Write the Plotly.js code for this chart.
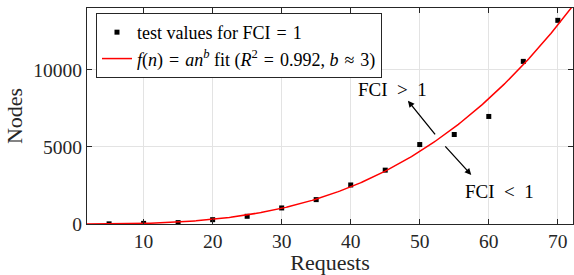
<!DOCTYPE html>
<html>
<head>
<meta charset="utf-8">
<script src="https://cdn.plot.ly/plotly-3.0.1.min.js"></script>
<style>html,body{margin:0;padding:0;background:#fff}#chart{width:574px;height:275px}</style>
</head>
<body>
<div id="chart"></div>
<script>
// Measured test values (FCI = 1)
const requests = [5, 10, 15, 20, 25, 30, 35, 40, 45, 50, 55, 60, 65, 70];
const nodes = [10, 40, 90, 280, 500, 1040, 1580, 2530, 3490, 5150, 5800, 6970, 10540, 13200];
// Fit f(n) = a n^b
const fitA = 0.0376;
const fitB = 3;
const xTicks = [10, 20, 30, 40, 50, 60, 70];
const yTicks = [0, 5000, 10000];
const yTickText = ['0', '5000', '10000'];

const fitX = [];
const fitY = [];
for (let n = 1.8; n <= 72.2001; n += 0.2) {
  fitX.push(n);
  fitY.push(fitA * Math.pow(n, fitB));
}

const FONT = 'Liberation Serif, Times New Roman, serif';
const INK = '#262626';
const SP = '\u2002';   // wide space around relations in annotations
const RS = '\u2004';   // relation spacing in legend

const traces = [
  {
    x: requests, y: nodes, mode: 'markers', type: 'scatter',
    name: 'test values for FCI' + RS + '=' + RS + '1',
    marker: {symbol: 'square', size: 5, color: '#000'}
  },
  {
    x: fitX, y: fitY, mode: 'lines', type: 'scatter',
    name: '<i>f</i>(<i>n</i>)' + RS + '=' + RS + '<i>an</i><sup><i>b</i></sup> fit (<i>R</i><sup>2</sup>' + RS + '=' + RS + '0.992, <i>b</i>' + RS + '≈' + RS + '3)',
    line: {color: '#ff0000', width: 1.5}
  }
];

const axisCommon = {
  showline: true, linecolor: INK, linewidth: 1, mirror: 'ticks',
  ticks: 'inside', ticklen: 5, tickcolor: INK, tickwidth: 1,
  showgrid: true, gridcolor: '#e3e3e3', gridwidth: 1,
  zeroline: false, automargin: true,
  tickfont: {family: FONT, size: 19.5, color: INK}
};

const layout = {
  width: 574, height: 275,
  margin: {l: 87, r: 1, t: 8, b: 51},
  paper_bgcolor: '#fff', plot_bgcolor: '#fff',
  font: {family: FONT, color: INK},
  showlegend: true,
  legend: {
    x: 0.0185, y: 0.977, xanchor: 'left', yanchor: 'top',
    bgcolor: '#fff', bordercolor: INK, borderwidth: 1,
    font: {family: FONT, size: 18, color: '#000'},
    itemwidth: 30, tracegroupgap: 0
  },
  xaxis: Object.assign({}, axisCommon, {
    range: [1.8, 72.2], tickvals: xTicks,
    title: {text: 'Requests', font: {family: FONT, size: 22, color: INK}, standoff: 4}
  }),
  yaxis: Object.assign({}, axisCommon, {
    range: [0, 14000], tickvals: yTicks, ticktext: yTickText,
    title: {text: 'Nodes', font: {family: FONT, size: 22, color: INK}, standoff: 4}
  }),
  annotations: [
    {x: 46.08, y: 8700, xref: 'x', yref: 'y', text: 'FCI' + SP + '>' + SP + '1', showarrow: false,
     font: {family: FONT, size: 19, color: '#000'}},
    {x: 61.54, y: 2078, xref: 'x', yref: 'y', text: 'FCI' + SP + '<' + SP + '1', showarrow: false,
     font: {family: FONT, size: 19, color: '#000'}},
    {x: 48.29, y: 7987, ax: 52.40, ay: 5714, xref: 'x', yref: 'y', axref: 'x', ayref: 'y',
     text: '', showarrow: true, arrowhead: 2, arrowsize: 1, arrowwidth: 1.3, arrowcolor: '#000'},
    {x: 57.46, y: 3182, ax: 53.50, ay: 5130, xref: 'x', yref: 'y', axref: 'x', ayref: 'y',
     text: '', showarrow: true, arrowhead: 2, arrowsize: 1, arrowwidth: 1.3, arrowcolor: '#000'}
  ]
};

Plotly.newPlot('chart', traces, layout, {displayModeBar: false, staticPlot: true});
</script>
</body>
</html>
